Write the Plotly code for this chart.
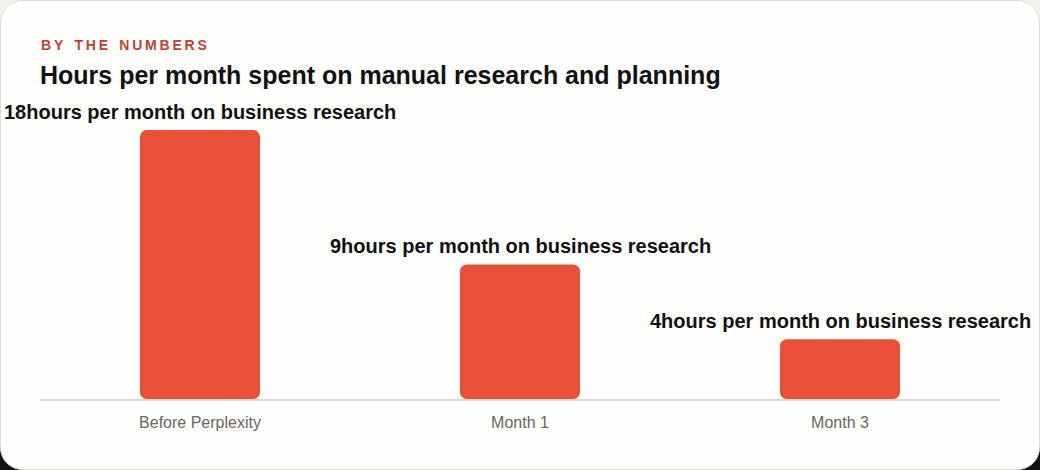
import plotly.graph_objects as go

categories = ["Before Perplexity", "Month 1", "Month 3"]
hours = [18, 9, 4]
bar_base = [0, 0, 0]
label_suffix = "hours per month on business research"
kicker = "BY THE NUMBERS"
title = "Hours per month spent on manual research and planning"

W, H = 1040, 470
ML, MR, MT, MB = 40, 40, 100, 71
PW, PH = W - ML - MR, H - MT - MB

def px2x(px):
    return (px - ML) / PW

def px2y(py):
    return (H - MB - py) / PH

BAR = "#E9503A"
FONT = "Liberation Sans, Arial, Helvetica, sans-serif"

fig = go.Figure()
fig.add_trace(go.Bar(x=categories, y=hours, base=bar_base, marker=dict(color=BAR, line=dict(width=0)),
                     hoverinfo="skip", showlegend=False))

annotations = []
for c, v in zip(categories, hours):
    annotations.append(dict(x=c, y=v, xref="x", yref="y", text=f"{v}{label_suffix}", showarrow=False,
                            yanchor="bottom", yshift=5,
                            font=dict(family=FONT, size=20, color="#111111", weight="bold")))

spaced = "\u2009".join(list(kicker)).replace("\u2009 \u2009", "\u2009\u2009\u2009\u2009")
annotations.append(dict(x=px2x(39), y=px2y(45), xref="paper", yref="paper", xanchor="left", yanchor="middle",
                        text=spaced, showarrow=False,
                        font=dict(family=FONT, size=14, color="#C0422C", weight="bold")))
annotations.append(dict(x=px2x(38), y=px2y(75), xref="paper", yref="paper", xanchor="left", yanchor="middle",
                        text=title, showarrow=False,
                        font=dict(family=FONT, size=25, color="#111111", weight="bold")))

def rounded_rect(x0, y0, x1, y1, r):
    X = px2x
    Y = px2y
    k = 0.45
    return (f"M {X(x0 + r)},{Y(y0)} L {X(x1 - r)},{Y(y0)} "
            f"C {X(x1 - r * k)},{Y(y0)} {X(x1)},{Y(y0 + r * k)} {X(x1)},{Y(y0 + r)} "
            f"L {X(x1)},{Y(y1 - r)} "
            f"C {X(x1)},{Y(y1 - r * k)} {X(x1 - r * k)},{Y(y1)} {X(x1 - r)},{Y(y1)} "
            f"L {X(x0 + r)},{Y(y1)} "
            f"C {X(x0 + r * k)},{Y(y1)} {X(x0)},{Y(y1 - r * k)} {X(x0)},{Y(y1 - r)} "
            f"L {X(x0)},{Y(y0 + r)} "
            f"C {X(x0)},{Y(y0 + r * k)} {X(x0 + r * k)},{Y(y0)} {X(x0 + r)},{Y(y0)} Z")

shapes = [
    dict(type="rect", xref="paper", yref="paper", x0=px2x(0), x1=px2x(W), y0=px2y(H), y1=px2y(440),
         fillcolor="#111111", line=dict(width=0), layer="below"),
    dict(type="path", xref="paper", yref="paper", path=rounded_rect(0.5, 0.5, W - 0.5, H - 0.5, 22),
         fillcolor="#FEFEFD", line=dict(color="#DEDBD6", width=1), layer="below"),
]

fig.update_layout(
    width=W, height=H,
    margin=dict(l=ML, r=MR, t=MT, b=MB),
    paper_bgcolor="#F2F1EE", plot_bgcolor="rgba(0,0,0,0)",
    bargap=0.625, barcornerradius=7,
    showlegend=False,
    annotations=annotations, shapes=shapes,
    xaxis=dict(range=[-0.5, 2.5], showline=True, linecolor="#DCD8D4", linewidth=1.5, showgrid=False,
               zeroline=False, ticks="", tickfont=dict(family=FONT, size=16, color="#6B6661"),
               ticklabelstandoff=8, fixedrange=True),
    yaxis=dict(range=[0, 20], visible=False, showgrid=False, zeroline=False, fixedrange=True),
    font=dict(family=FONT),
)

fig.write_html("out.html", config={"displayModeBar": False})
